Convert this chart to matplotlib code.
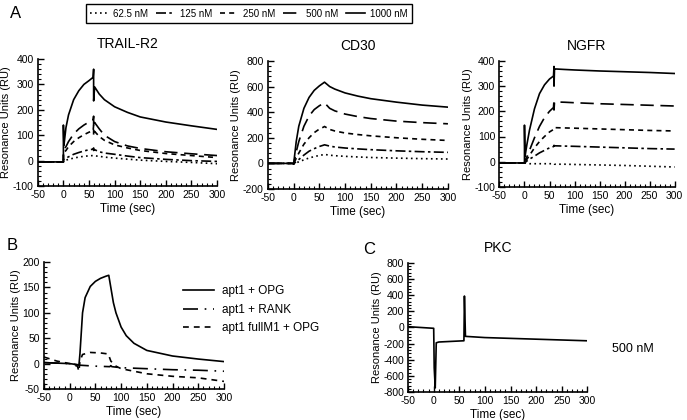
import matplotlib
matplotlib.use("Agg")
import matplotlib.pyplot as plt
from matplotlib.ticker import MultipleLocator
from matplotlib.lines import Line2D

plt.rcParams['font.family'] = ['Liberation Sans', 'DejaVu Sans']
plt.rcParams['axes.unicode_minus'] = False

# concentrations (legend of panel A)
conc_labels = ["62.5 nM", "125 nM", "250 nM", "500 nM", "1000 nM"]
conc_styles = [(0, (1, 2)), (0, (6, 2, 1.5, 2)), (0, (3, 2.5)), (0, (8, 4)), "-"]

# TRAIL-R2
t_trail = [-50, -1, 0, 0, 1, 5, 10, 20, 30, 40, 50, 58, 59, 59, 61, 70, 80, 100, 125, 150, 200, 250, 300]
trail_62 = [-5, -5, -5, 0, 0, 2, 5, 10, 14, 17, 19, 20, 20, 20, 19, 17, 14, 10, 6, 2, -3, -7, -12]
trail_125 = [-5, -5, -5, 5, 6, 10, 15, 25, 32, 38, 43, 45, 50, 40, 43, 35, 30, 25, 18, 12, 5, 0, -3]
trail_250 = [-5, -5, -5, 30, 32, 40, 55, 75, 90, 102, 112, 118, 140, 100, 115, 95, 80, 62, 50, 40, 28, 20, 12]
trail_500 = [-5, -5, -5, 40, 45, 55, 75, 105, 125, 140, 152, 160, 175, 130, 150, 125, 100, 75, 58, 48, 35, 27, 20]
trail_1000 = [-5, -5, -5, 140, 60, 130, 180, 240, 275, 300, 315, 328, 360, 235, 290, 262, 240, 212, 190, 172, 152, 137, 123]

# CD30
t_cd30 = [-50, -1, 0, 5, 10, 20, 30, 40, 50, 58, 60, 70, 80, 100, 125, 150, 200, 250, 300]
cd30_62 = [0, 0, -5, 5, 12, 28, 42, 53, 62, 68, 70, 64, 60, 55, 50, 46, 41, 37, 34]
cd30_125 = [0, 0, -5, 15, 30, 65, 95, 115, 132, 142, 145, 135, 128, 120, 113, 107, 98, 91, 86]
cd30_250 = [0, 0, -5, 40, 80, 150, 200, 240, 268, 283, 288, 265, 253, 237, 225, 215, 200, 188, 179]
cd30_500 = [0, 0, -5, 90, 170, 290, 370, 420, 450, 468, 473, 430, 410, 385, 365, 350, 330, 318, 309]
cd30_1000 = [0, 0, -5, 170, 290, 430, 515, 570, 605, 628, 634, 600, 580, 550, 525, 505, 478, 455, 439]

# NGFR
t_ngfr = [-50, -1, 0, 0, 1, 5, 10, 20, 30, 40, 50, 58, 59, 59, 60, 62, 80, 100, 150, 200, 250, 300]
ngfr_62 = [-5, -5, -5, -5, -5, -7, -8, -8, -8, -8, -8, -8, -8, -8, -10, -10, -10, -11, -13, -15, -18, -21]
ngfr_125 = [-5, -5, -5, -5, -3, 3, 10, 22, 35, 45, 55, 60, 65, 65, 63, 63, 62, 61, 58, 55, 52, 50]
ngfr_250 = [-5, -5, -5, -5, 0, 10, 25, 55, 80, 100, 118, 128, 135, 135, 135, 135, 134, 133, 130, 127, 124, 122]
ngfr_500 = [-5, -5, -5, -5, 5, 20, 45, 95, 140, 175, 200, 215, 245, 205, 237, 237, 236, 234, 230, 227, 224, 221]
ngfr_1000 = [-5, -5, -5, 145, 20, 70, 125, 210, 270, 305, 328, 340, 378, 300, 368, 368, 366, 364, 360, 357, 354, 350]

# panel B
t_opg = [-50, 0, 15, 18, 20, 25, 30, 40, 50, 60, 70, 76, 80, 85, 90, 100, 110, 125, 150, 200, 250, 300]
apt1_opg = [2, 0, -2, -3, 20, 100, 130, 152, 162, 168, 172, 174, 150, 120, 100, 72, 55, 40, 26, 15, 9, 4]
t_rank = [-50, 0, 18, 50, 78, 80, 82, 100, 150, 200, 250, 300]
apt1_rank = [2, 0, -3, -5, -6, -4, -6, -8, -10, -12, -13, -15]
t_full = [-50, -25, 0, 15, 18, 20, 25, 40, 60, 75, 80, 90, 100, 125, 150, 200, 250, 300]
apt1_full = [13, 5, 0, -5, -15, 5, 18, 22, 21, 19, 5, -5, -10, -15, -20, -25, -28, -35]

# panel C
t_pkc = [-50, 0, 1, 3, 5, 10, 58, 59, 60, 62, 100, 200, 300]
pkc = [10, -10, -500, -750, -190, -180, -165, -165, 390, -110, -125, -145, -165]


def style_axis(ax, ylim, ymajor, yminor):
    ax.set_xlim(-50, 300)
    ax.set_ylim(*ylim)
    ax.xaxis.set_major_locator(MultipleLocator(50))
    ax.xaxis.set_minor_locator(MultipleLocator(10))
    ax.yaxis.set_major_locator(MultipleLocator(ymajor))
    ax.yaxis.set_minor_locator(MultipleLocator(yminor))
    ax.spines['top'].set_visible(False)
    ax.spines['right'].set_visible(False)
    ax.spines['left'].set_linewidth(1.2)
    ax.spines['bottom'].set_linewidth(1.2)
    ax.tick_params(which='major', direction='in', length=4, width=1, labelsize=7.5, pad=3)
    ax.tick_params(which='minor', direction='in', length=2, width=0.8)
    ax.set_xlabel("Time (sec)", fontsize=8.5, labelpad=2)
    ax.set_ylabel("Resonance Units (RU)", fontsize=8, labelpad=1)


fig = plt.figure(figsize=(6.87, 4.2), dpi=100)

panels = [
    ("TRAIL-R2", [0.0550, 0.557, 0.261, 0.3025], t_trail,
     [trail_62, trail_125, trail_250, trail_500, trail_1000], (-100, 400), 100, 20),
    ("CD30", [0.390, 0.550, 0.262, 0.305], t_cd30,
     [cd30_62, cd30_125, cd30_250, cd30_500, cd30_1000], (-200, 800), 200, 40),
    ("NGFR", [0.727, 0.555, 0.255, 0.3], t_ngfr,
     [ngfr_62, ngfr_125, ngfr_250, ngfr_500, ngfr_1000], (-100, 400), 100, 20),
]

for title, rect, t, curves, ylim, ymaj, ymin in panels:
    ax = fig.add_axes(rect)
    for y, ls in zip(curves, conc_styles):
        ax.plot(t, y, color='black', linestyle=ls, linewidth=1.2)
    style_axis(ax, ylim, ymaj, ymin)
    ax.set_title(title, fontsize=10, pad=8)

# legend for panel A
handles = [Line2D([], [], color='black', linestyle=ls, linewidth=1.2) for ls in conc_styles]
fig.legend(handles, conc_labels, loc='center', bbox_to_anchor=(0.362, 0.967),
           ncol=5, fontsize=7, frameon=True, fancybox=False, edgecolor='black',
           handlelength=1.9, handletextpad=0.5, columnspacing=0.8,
           borderpad=0.45, framealpha=1)

# panel B
axb = fig.add_axes([0.064, 0.0738, 0.262, 0.3022])
axb.plot(t_opg, apt1_opg, color='black', linewidth=1.2, label="apt1 + OPG")
axb.plot(t_rank, apt1_rank, color='black', linewidth=1.2, linestyle=(0, (9, 4, 1, 4)), label="apt1 + RANK")
axb.plot(t_full, apt1_full, color='black', linewidth=1.2, linestyle=(0, (3.5, 3)), label="apt1 fullM1 + OPG")
style_axis(axb, (-50, 200), 50, 10)
fig.legend(*axb.get_legend_handles_labels(), loc='upper left', bbox_to_anchor=(0.255, 0.34),
           frameon=False, fontsize=8.5, handlelength=2.6, handletextpad=0.7, labelspacing=0.55,
           borderpad=0.2)

# panel C
axc = fig.add_axes([0.594, 0.0667, 0.261, 0.3071])
axc.plot(t_pkc, pkc, color='black', linewidth=1.2)
style_axis(axc, (-800, 800), 200, 40)
axc.set_title("PKC", fontsize=10, pad=8)
axc.text(1.14, 0.33, "500 nM", transform=axc.transAxes, fontsize=9, va='center', ha='left')

# panel letters
fig.text(0.015, 0.968, "A", fontsize=12, va='center')
fig.text(0.010, 0.415, "B", fontsize=12, va='center')
fig.text(0.528, 0.405, "C", fontsize=12, va='center')

fig.savefig("out.png", dpi=100)
